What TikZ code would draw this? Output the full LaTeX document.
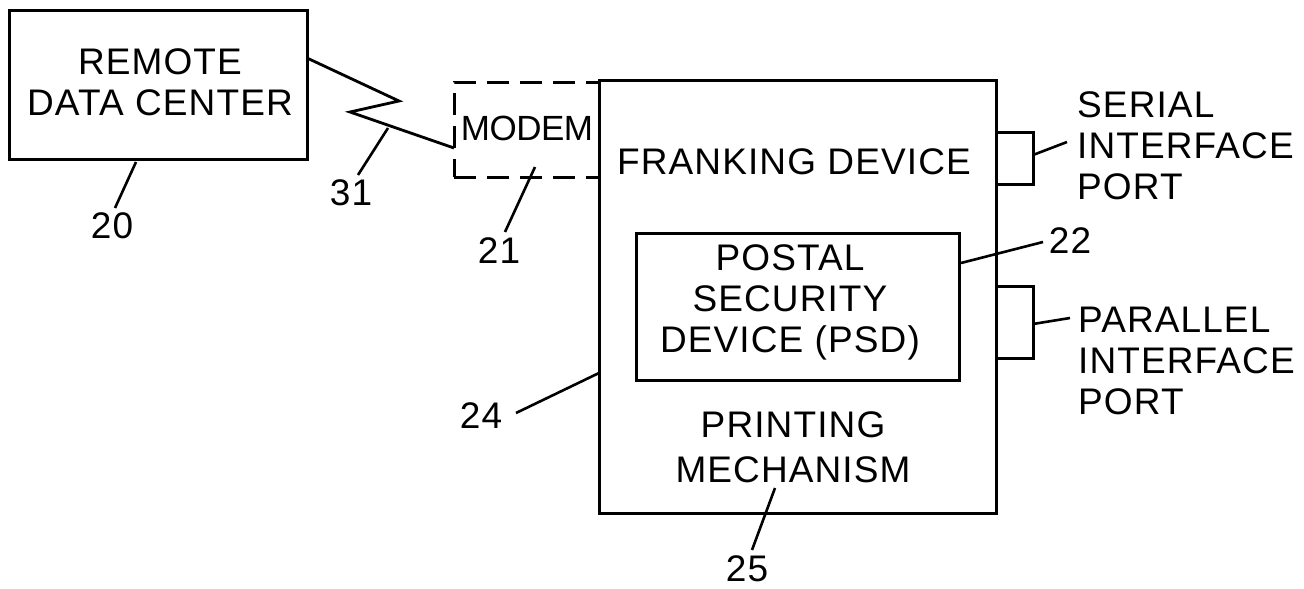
\documentclass[tikz,border=0pt]{standalone}
\usepackage{fontspec}
\setmainfont{Liberation Sans}[LetterSpace=3]
\usetikzlibrary{fit}
\begin{document}
\begin{tikzpicture}[x=1pt,y=-1pt,
  box/.style={draw, line width=3pt, inner sep=0pt},
  dbox/.style={draw, line width=3pt, inner sep=0pt, dash pattern=on 22pt off 11pt},
  txt/.style={inner sep=0pt, align=center, font=\fontsize{37}{41}\selectfont},
  ltxt/.style={inner sep=0pt, align=left, anchor=west, font=\fontsize{37}{41}\selectfont},
  lead/.style={draw, line width=2.6pt},
]
\useasboundingbox[fill=white] (0,0) rectangle (1304,589);

% boxes
\node[box, fit={(9,10) (307,159)}] (rdc) {};
\node[box, fit={(599,80) (996,513)}] (frank) {};
\node[box, fit={(636,233) (959,380)}] (psd) {};
\node[box, fit={(996,132) (1033,184)}] (serial) {};
\node[box, fit={(996,286) (1033,358)}] (parallel) {};
\node[dbox, fit={(454,82) (599,177)}] (modem) {};

% texts
\node[txt] (trdc) at (160,82.5) {REMOTE\\DATA CENTER};
\node[txt, font=\fontsize{35}{40}\selectfont] (tmodem) at (527,128) {\addfontfeatures{LetterSpace=-1.5}MODEM};
\node[txt] (tfrank) at (794,162) {FRANKING DEVICE};
\node[txt] (tpsd) at (790,302) {POSTAL\\SECURITY\\DEVICE (PSD)};
\node[txt, font=\fontsize{37}{45}\selectfont] (tprint) at (793,447) {PRINTING\\MECHANISM};
\node[ltxt] (tserial) at (1077,145.5) {SERIAL\\INTERFACE\\PORT};
\node[ltxt] (tparallel) at (1078,361) {PARALLEL\\INTERFACE\\PORT};

% reference numerals
\node[txt] (n20) at (112,226) {20};
\node[txt] (n31) at (351,193) {31};
\node[txt] (n21) at (499,251) {21};
\node[txt] (n22) at (1070,241) {22};
\node[txt] (n24) at (481,416) {24};
\node[txt] (n25) at (747,569) {25};

% communication link (lightning)
\coordinate (z0) at (307,58);
\coordinate (z1) at (399,101);
\coordinate (z2) at (350,112);
\coordinate (z3) at (454,148);
\draw[line width=2.8pt, line join=miter] (z0) -- (z1) -- (z2) -- (z3);

% leader lines
\coordinate (a20) at (136,162);  \coordinate (b20) at (115,208);
\coordinate (a31) at (388,128);  \coordinate (b31) at (358,175);
\coordinate (a21) at (535,167);  \coordinate (b21) at (505,232);
\coordinate (a22) at (961,263);  \coordinate (b22) at (1043,242);
\coordinate (a24) at (599,373);  \coordinate (b24) at (516,413);
\coordinate (a25) at (775,488);  \coordinate (b25) at (752,550);
\coordinate (as) at (1033,155);  \coordinate (bs) at (1067,142);
\coordinate (ap) at (1033,324);  \coordinate (bp) at (1070,318);
\draw[lead] (a20) -- (b20);
\draw[lead] (a31) -- (b31);
\draw[lead] (a21) -- (b21);
\draw[lead] (a22) -- (b22);
\draw[lead] (a24) -- (b24);
\draw[lead] (a25) -- (b25);
\draw[lead] (as) -- (bs);
\draw[lead] (ap) -- (bp);
\end{tikzpicture}
\end{document}
